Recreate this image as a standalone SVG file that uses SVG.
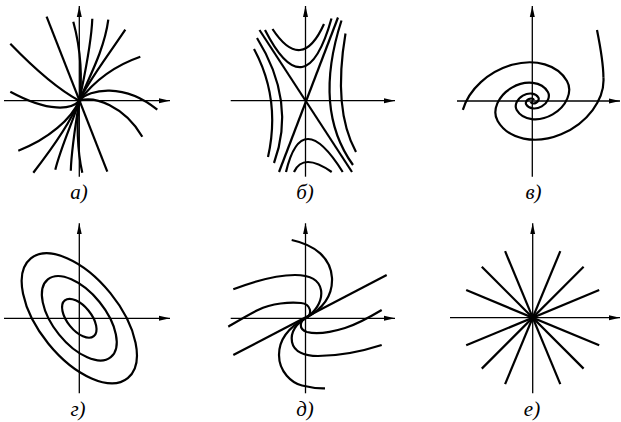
<svg xmlns="http://www.w3.org/2000/svg" width="621" height="422" viewBox="0 0 621 422">
<style>
.ax{stroke:#000;stroke-width:1.3;fill:none;marker-end:url(#arr)}
.c{stroke:#000;stroke-width:2.2;fill:none}
.s{vector-effect:non-scaling-stroke}
.lb{font-family:"Liberation Serif","Times New Roman",serif;font-style:italic;font-size:21px;fill:#000;text-anchor:middle}
</style>
<defs>
<marker id="arr" viewBox="0 0 11 6" refX="11" refY="3" markerWidth="11" markerHeight="6" markerUnits="userSpaceOnUse" orient="auto">
<path d="M0,0.5 L11,3 L0,5.5 Z" fill="#000"/>
</marker>
</defs>
<rect width="621" height="422" fill="#fff"/>

<g id="panel-a">
<path class="ax" d="M79.3,176.7 V6"/>
<path class="ax" d="M4,100.7 H170"/>
<g class="c" transform="translate(79.3,100.7)">
<path d="M0,0 C-15,-8 -40,-27 -69,-57"/>
<path d="M0,0 C-8,9 -30,12 -69,-9"/>
<path d="M-32.7,-84 L28,71"/>
<path d="M0,0 C3,-20 2,-50 -6,-79"/>
<path d="M0,0 C5,-25 12,-55 13,-82"/>
<path d="M0,0 C8,-20 25,-50 29,-81"/>
<path d="M0,0 C8,-18 28,-44 46,-71"/>
<path d="M0,0 C12,-16 32,-34 61,-44"/>
<path d="M0,0 C10,-12 45,-18 78,9"/>
<path d="M0,0 C15,-5 45,5 63,36"/>
<path d="M0,0 C-3,20 -2,50 3,72"/>
<path d="M0,0 C-4,25 -8,50 -8.5,70"/>
<path d="M0,0 C-6,20 -18,45 -24,69"/>
<path d="M0,0 C-8,20 -25,45 -46,72"/>
<path d="M0,0 C-8,18 -30,38 -61,50"/>
</g>
<text class="lb" x="79" y="199">а)</text>
</g>

<g id="panel-b">
<path class="ax" d="M305.5,176.7 V6"/>
<path class="ax" d="M230.7,100.7 H395"/>
<g class="c">
<path d="M259.5,30 L352,172"/>
<path d="M338,17.5 L279,172"/>
<path d="M272.5,29 Q301.75,73.5 324,24"/>
<path d="M265,30 Q305.75,109.75 331.5,18.5"/>
<path d="M286,172 Q301.65,106 342.7,172"/>
<path d="M294,172 Q303.15,152 331.7,172"/>
<path d="M257,38 Q296.5,101.5 274,163"/>
<path d="M254,49 Q281,99 268,157"/>
<path d="M341.5,20.5 Q312.75,109.25 353,165"/>
<path d="M345.5,33.5 Q332.65,109.25 356,152"/>
</g>
<text class="lb" x="305" y="199">б)</text>
</g>

<g id="panel-v">
<path class="ax" d="M532.3,176.7 V6"/>
<path class="ax" d="M457,101 H620"/>
<path class="c" d="M597,30 C600,45 603.3,62 603.43,77.26"/>
<g class="c" transform="translate(532.3,101) rotate(-30) scale(1,0.75)">
<path class="s" d="M73.47,20.01 A58.5,58.5 0 0 1 -40,0 A29,29 0 0 1 18,0 A12.5,12.5 0 0 1 -7,0 A4.5,4.5 0 0 1 2,0"/>
<path class="s" d="M-64.6,-36 A58.5,58.5 0 0 1 40,0 A29,29 0 0 1 -18,0 A12.5,12.5 0 0 1 7,0 A4.5,4.5 0 0 1 -2,0"/>
</g>
<text class="lb" x="533.5" y="199">в)</text>
</g>

<g id="panel-g">
<path class="ax" d="M79.3,393.3 V223.3"/>
<path class="ax" d="M4,318.3 H170"/>
<g class="c" transform="translate(79.3,318.3) rotate(51)">
<ellipse rx="77" ry="40"/>
<ellipse rx="50" ry="26"/>
<ellipse rx="23" ry="12"/>
</g>
<text class="lb" x="78" y="416">г)</text>
</g>

<g id="panel-d">
<path class="ax" d="M305.5,393.3 V223.3"/>
<path class="ax" d="M230.7,318.3 H395"/>
<g class="c">
<path d="M233.3,355 L386.7,275"/>
<path d="M305.5,318.3 C318,311.5 333,300 332,278 C331,258 315,245 291.7,240"/>
<path d="M305.5,318.3 C314,313 323,302 321,290 C319,279 308,275 295,275 C275,275 255,281 233.3,289.3"/>
<path d="M305.5,318.3 C313,314.3 311,304 301,303 C290,302 272,303 258,310 C248,315 238,321 228.3,326.7"/>
<path d="M305.5,318.3 C300,321 298,329 307,332 C318,335 332,332 345,328 C358,324 370,317 381.7,310"/>
<path d="M305.5,318.3 C297,323 290,332 292,342 C294,352 305,356 318,356 C335,356 360,352 381.7,345"/>
<path d="M305.5,318.3 C293,325 279,337 279,355 C279,372 292,383 302,385.5 C310,387.5 318,388.5 325,388.3"/>
</g>
<text class="lb" x="305" y="416">д)</text>
</g>

<g id="panel-e">
<path class="ax" d="M532.7,393.3 V223.3"/>
<path class="ax" d="M450,317.7 H620"/>
<g class="c">
<path d="M599.2,290.1 L466.2,345.3"/>
<path d="M599.2,345.3 L466.2,290.1"/>
<path d="M583.6,266.8 L481.8,368.6"/>
<path d="M583.6,368.6 L481.8,266.8"/>
<path d="M560.3,251.2 L505.1,384.2"/>
<path d="M560.3,384.2 L505.1,251.2"/>
</g>
<text class="lb" x="532" y="416">е)</text>
</g>
</svg>
